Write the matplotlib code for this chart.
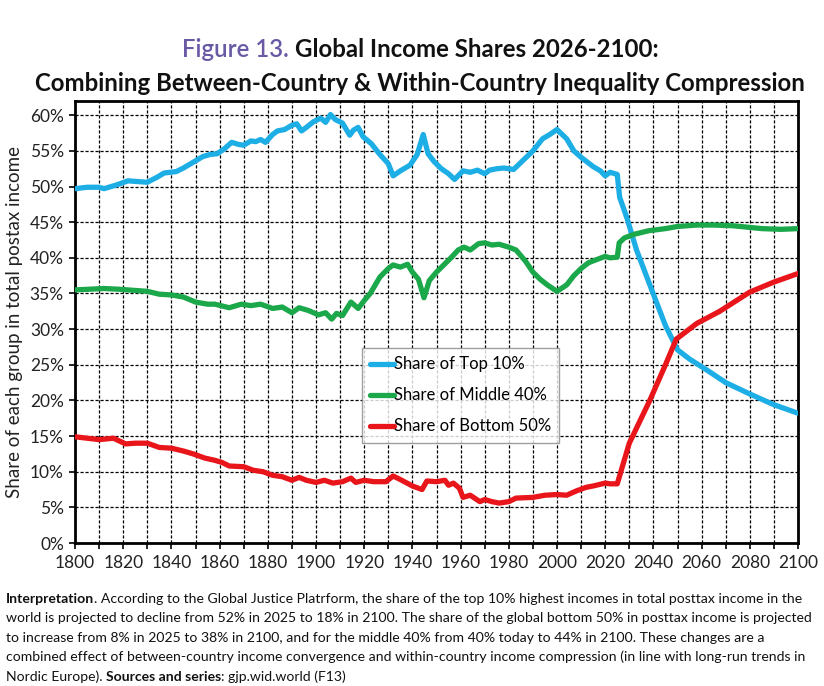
import matplotlib
matplotlib.use('Agg')
import matplotlib.pyplot as plt
from matplotlib.ticker import MultipleLocator, FuncFormatter

# ---------------- data ----------------
top10_years = [1800, 1805, 1810, 1812, 1817, 1822, 1826, 1830, 1834, 1837, 1842, 1845, 1848, 1853, 1856,
               1859, 1862, 1865, 1868, 1870, 1873, 1875, 1877, 1879, 1882, 1884, 1887, 1890, 1892, 1894,
               1896, 1899, 1902, 1904, 1906, 1908, 1911, 1914, 1915.5, 1917.5, 1919.5, 1923, 1926.5, 1930,
               1932, 1935, 1939, 1942, 1944.5, 1946.5, 1949, 1952, 1955, 1957.5, 1961, 1964, 1967, 1970,
               1972, 1975, 1978, 1982, 1986, 1990, 1994, 1997, 2000, 2004, 2007, 2010, 2015, 2018, 2020,
               2022, 2025, 2026, 2029, 2033, 2040, 2045, 2050, 2055, 2062, 2070, 2080, 2090, 2100]
top10_vals = [49.7, 49.9, 49.9, 49.7, 50.2, 50.8, 50.7, 50.6, 51.3, 51.9, 52.1, 52.6, 53.2, 54.2, 54.5,
              54.6, 55.3, 56.2, 55.9, 55.8, 56.4, 56.3, 56.6, 56.2, 57.3, 57.8, 58.0, 58.6, 58.8, 57.8,
              58.3, 59.1, 59.6, 59.0, 60.1, 59.4, 58.9, 57.2, 57.9, 58.3, 57.0, 56.0, 54.5, 53.2,
              51.5, 52.2, 53.0, 54.5, 57.3, 54.6, 53.5, 52.5, 51.8, 51.0, 52.2, 52.0, 52.3, 51.8,
              52.3, 52.5, 52.6, 52.4, 53.7, 55.0, 56.7, 57.3, 58.0, 56.7, 55.0, 54.1, 52.8, 52.2, 51.5,
              52.0, 51.7, 48.5, 45.6, 41.1, 34.9, 30.5, 27.1, 25.8, 24.3, 22.5, 20.9, 19.4, 18.2]

mid40_years = [1800, 1806, 1812, 1818, 1822, 1826, 1830, 1835, 1840, 1845, 1850, 1855, 1858, 1864, 1869,
               1873, 1877, 1882, 1886, 1890, 1893, 1897, 1901, 1904, 1906.5, 1908.5, 1911, 1914.5, 1917.5,
               1920, 1922.5, 1926.5, 1930, 1932, 1935, 1938, 1940, 1942.5, 1944.8, 1947, 1950, 1953, 1956,
               1959, 1961.5, 1964, 1967.5, 1970, 1973, 1976, 1980, 1983, 1987, 1990, 1993, 1996, 2000,
               2004, 2007, 2010, 2013, 2016, 2020, 2022, 2025, 2025.8, 2028, 2032, 2038, 2045, 2050,
               2058, 2065, 2073, 2085, 2093, 2100]
mid40_vals = [35.5, 35.6, 35.7, 35.6, 35.5, 35.4, 35.3, 34.9, 34.8, 34.5, 33.8, 33.5, 33.5, 33.0, 33.5,
              33.3, 33.5, 32.9, 33.1, 32.3, 33.0, 32.6, 32.0, 32.3, 31.4, 32.2, 31.9, 33.8, 32.9,
              34.0, 35.0, 37.3, 38.5, 39.0, 38.7, 39.1, 38.0, 37.0, 34.4, 36.8, 38.0, 39.0, 40.0,
              41.1, 41.5, 41.1, 42.0, 42.1, 41.8, 41.9, 41.5, 41.1, 39.5, 38.0, 37.0, 36.2, 35.3,
              36.2, 37.5, 38.5, 39.3, 39.7, 40.2, 40.0, 40.1, 42.1, 42.8, 43.3, 43.8, 44.1, 44.4,
              44.6, 44.6, 44.5, 44.1, 44.0, 44.1]

bot50_years = [1800, 1805, 1810, 1816, 1818.5, 1821, 1825, 1830, 1835, 1840, 1845, 1849, 1854, 1858, 1861,
               1864, 1870, 1874, 1878, 1882, 1886, 1890, 1893, 1896, 1900, 1903.5, 1907, 1911, 1914.5,
               1916.5, 1920, 1924, 1929, 1932, 1935, 1940, 1944, 1946, 1950, 1953.5, 1955, 1957, 1959.5,
               1961, 1964, 1968, 1970, 1973, 1976, 1980, 1983, 1990, 1995, 2000, 2004, 2008, 2012, 2015,
               2020, 2022, 2025, 2030, 2038.5, 2045, 2049.5, 2058, 2067.5, 2080, 2090, 2100]
bot50_vals = [14.9, 14.7, 14.5, 14.7, 14.3, 13.9, 14.0, 14.0, 13.4, 13.3, 12.9, 12.5, 11.9, 11.6, 11.3,
              10.8, 10.7, 10.2, 10.0, 9.5, 9.3, 8.8, 9.2, 8.8, 8.5, 8.8, 8.4, 8.6, 9.1,
              8.5, 8.8, 8.6, 8.6, 9.4, 8.9, 8.0, 7.5, 8.7, 8.6, 8.8, 8.1, 8.4, 7.7,
              6.4, 6.7, 5.8, 6.1, 5.8, 5.6, 5.8, 6.3, 6.4, 6.7, 6.8, 6.7, 7.3, 7.8, 8.0,
              8.4, 8.3, 8.3, 14.0, 20.0, 25.0, 28.6, 30.8, 32.5, 35.2, 36.6, 37.8]

series_labels = ["Share of Top 10%", "Share of Middle 40%", "Share of Bottom 50%"]
x_ticks = list(range(1800, 2101, 20))

title_prefix = "Figure 13."
title_line1 = "Global Income Shares 2026-2100:"
title_line2 = "Combining Between-Country & Within-Country Inequality Compression"
ylabel = "Share of each group in total postax income"

note_lines = [
    [("Interpretation", "bold"), (". According to the Global Justice Platrform, the share of the top 10% highest incomes in total posttax income in the", "normal")],
    [("world is projected to decline from 52% in 2025 to 18% in 2100. The share of the global bottom 50% in posttax income is projected", "normal")],
    [("to increase from 8% in 2025 to 38% in 2100, and for the middle 40% from 40% today to 44% in 2100. These changes are a", "normal")],
    [("combined effect of between-country income convergence and within-country income compression (in line with long-run trends in", "normal")],
    [("Nordic Europe). ", "normal"), ("Sources and series", "bold"), (": gjp.wid.world (F13)", "normal")],
]

# ---------------- figure ----------------
W, H = 824, 686
plt.rcParams['font.family'] = ['Lato', 'DejaVu Sans']
fig = plt.figure(figsize=(W / 100, H / 100), dpi=100)
fig.patch.set_facecolor('white')
ax = fig.add_axes([75 / W, 1 - 543 / H, (798 - 75) / W, (543 - 101) / H])

colors = ['#1eaee6', '#1aa84a', '#e8151b']
for yrs, vals, c, lab in zip([top10_years, mid40_years, bot50_years],
                             [top10_vals, mid40_vals, bot50_vals], colors, series_labels):
    ax.plot(yrs, vals, color=c, lw=3.8, label=lab, solid_joinstyle='round', solid_capstyle='round', zorder=3)

ax.set_xlim(1800, 2100)
ax.set_ylim(0, 62)
ax.set_xticks(x_ticks)
ax.xaxis.set_minor_locator(MultipleLocator(10))
ax.yaxis.set_major_locator(MultipleLocator(5))
ax.yaxis.set_major_formatter(FuncFormatter(lambda v, p: f"{int(round(v))}%"))
ax.grid(True, which='both', axis='x', color='black', linestyle=(0, (2.5, 1.5)), lw=0.9, zorder=1)
ax.grid(True, which='major', axis='y', color='black', linestyle=(0, (2.5, 1.5)), lw=0.9, zorder=1)
ax.set_axisbelow(True)
ax.tick_params(axis='both', which='both', direction='out', length=4, width=1.2, color='black',
               labelsize=12.5, labelcolor='#222222')
ax.tick_params(axis='x', pad=5)
ax.tick_params(axis='y', pad=4)
for s in ax.spines.values():
    s.set_linewidth(2.0)
    s.set_color('black')
ax.set_ylabel(ylabel, fontsize=13.5, color='#222222', labelpad=5)

leg = ax.legend(loc='upper left', bbox_to_anchor=((362 - 75) / 723, (543 - 348) / 442), frameon=True,
                fancybox=False, edgecolor='#888888', fontsize=12, handlelength=1.4, handletextpad=0.0,
                labelspacing=0.9, borderpad=0.5, borderaxespad=0)
leg.get_frame().set_linewidth(1.0)
leg.set_zorder(5)

renderer = fig.canvas.get_renderer()


def text_w(s, size, weight):
    t = fig.text(0, 0, s, fontsize=size, fontweight=weight)
    w = t.get_window_extent(renderer).width
    t.remove()
    return w


def draw_runs(runs, y_px, size, x_px=None, center_px=None):
    """runs: list of (text, weight, color)."""
    widths = []
    for s, wt, c in runs:
        lead = len(s) - len(s.lstrip(' '))
        trail = len(s) - len(s.rstrip(' '))
        sp = text_w("x x", size, wt) - text_w("xx", size, wt)
        widths.append((text_w(s.strip(' '), size, wt), lead * sp, trail * sp))
    total = sum(a + b + c for a, b, c in widths)
    x = x_px if x_px is not None else center_px - total / 2
    for (s, wt, c), (w, l, tr) in zip(runs, widths):
        x += l
        fig.text(x / W, 1 - y_px / H, s.strip(' '), fontsize=size, fontweight=wt, color=c,
                 ha='left', va='baseline')
        x += w + tr
    return total


# title
tsize = 16.5
w2 = text_w(title_line2, tsize, 'bold')
tsize = tsize * 770 / w2
purple = '#6a5aa6'
draw_runs([(title_prefix + " ", 'semibold', purple), (title_line1, 'bold', '#111111')], 57, tsize, center_px=420)
draw_runs([(title_line2, 'bold', '#111111')], 91, tsize, center_px=420)

# note
nsize = 10
wl = text_w(note_lines[1][0][0], nsize, 'normal')
nsize = nsize * 803 / wl
y0 = 603
for i, line in enumerate(note_lines):
    draw_runs([(s, wt, '#111111') for s, wt in line], y0 + i * 19.4, nsize, x_px=6)

fig.savefig('out.png', dpi=100, facecolor='white')
